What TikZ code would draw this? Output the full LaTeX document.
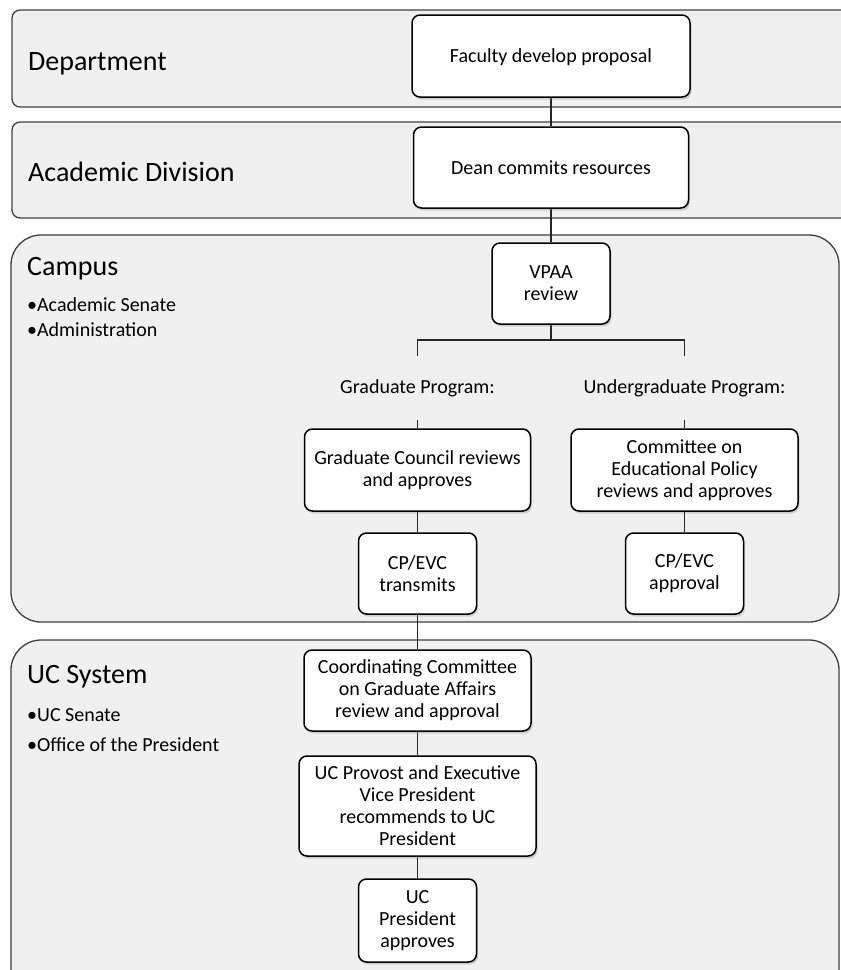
\documentclass[tikz,border=0pt]{standalone}
\usepackage{fontspec}
\setmainfont{Carlito}
\usepackage{tikz}
\usetikzlibrary{shadows}
\usetikzlibrary{backgrounds}

\begin{document}
\begin{tikzpicture}[x=1pt,y=-1pt,
	band/.style={draw=black!75,line width=1.3pt,fill=black!6},
	stage/.style={draw=black,line width=1.5pt,fill=white,rounded corners=8pt,align=center,inner sep=0pt,font=\fontsize{20}{22}\selectfont,drop shadow={shadow xshift=1.5pt,shadow yshift=-2.5pt,opacity=0.3}},
	level/.style={anchor=base west,inner sep=0pt,font=\fontsize{28}{30}\selectfont},
	member/.style={anchor=base west,inner sep=0pt,font=\fontsize{20}{22}\selectfont},
	track/.style={inner sep=0pt,minimum height=64pt,font=\fontsize{20}{22}\selectfont},
	link/.style={draw=black!85,line width=1.5pt}]
		\useasboundingbox (0,0) rectangle (841,970);
		\begin{scope}[on background layer]
			\draw[band,rounded corners=8pt] (12,10) rectangle (880,107);
			\draw[band,rounded corners=8pt] (12,122) rectangle (880,218);
			\draw[band,rounded corners=30pt] (11,235) rectangle (839,622);
			\draw[band,rounded corners=30pt] (11,640) rectangle (839,1010);
		\end{scope}
		\node[level] (dept) at (28,70) {Department};
		\node[level] (division) at (28,181) {Academic Division};
		\node[level] (campus) at (27,275) {Campus};
		\node[member] (senate) at (27,311) {•Academic Senate};
		\node[member] (admin) at (27,336) {•Administration};
		\node[level] (system) at (27,683) {UC System};
		\node[member] (ucsenate) at (27,721) {•UC Senate};
		\node[member] (office) at (27,751) {•Office of the President};
		\node[stage,minimum width=278pt,minimum height=82pt,text depth=0pt] (faculty) at (551,56) {Faculty develop proposal};
		\node[stage,minimum width=275pt,minimum height=81pt,text depth=0pt] (dean) at (551,167.5) {Dean commits resources};
		\node[stage,minimum width=118pt,minimum height=81pt] (vpaa) at (551,283.5) {VPAA\\review};
		\coordinate (fork) at (551,340);
		\node[track] (gradlbl) at (417.5,388) {Graduate Program:};
		\node[track] (ugradlbl) at (684.5,388) {Undergraduate Program:};
		\node[stage,minimum width=226pt,minimum height=82pt] (council) at (417.5,470) {Graduate Council reviews\\and approves};
		\node[stage,minimum width=227pt,minimum height=82pt] (cep) at (684.5,470) {Committee on\\Educational Policy\\reviews and approves};
		\node[stage,minimum width=118pt,minimum height=81pt] (transmit) at (417.5,573.5) {CP/EVC\\transmits};
		\node[stage,minimum width=118pt,minimum height=81pt] (approval) at (684.5,573.5) {CP/EVC\\approval};
		\node[stage,minimum width=227pt,minimum height=81pt] (ccga) at (417.5,690.5) {Coordinating Committee\\on Graduate Affairs\\review and approval};
		\node[stage,minimum width=237pt,minimum height=100pt] (provost) at (417.5,806) {UC Provost and Executive\\Vice President\\recommends to UC\\President};
		\node[stage,minimum width=118pt,minimum height=83pt] (president) at (417.5,920.5) {UC\\President\\approves};
		\begin{scope}[on background layer]
			\draw[link] (faculty) -- (dean);
			\draw[link] (dean) -- (vpaa);
			\draw[link] (vpaa) -- (fork);
			\draw[link] (gradlbl.north) |- (fork) -| (ugradlbl.north);
			\draw[link] (gradlbl.south) -- (council);
			\draw[link] (ugradlbl.south) -- (cep);
			\draw[link] (council) -- (transmit);
			\draw[link] (cep) -- (approval);
			\draw[link] (transmit) -- (ccga);
			\draw[link] (ccga) -- (provost);
			\draw[link] (provost) -- (president);
		\end{scope}
\end{tikzpicture}
\end{document}
